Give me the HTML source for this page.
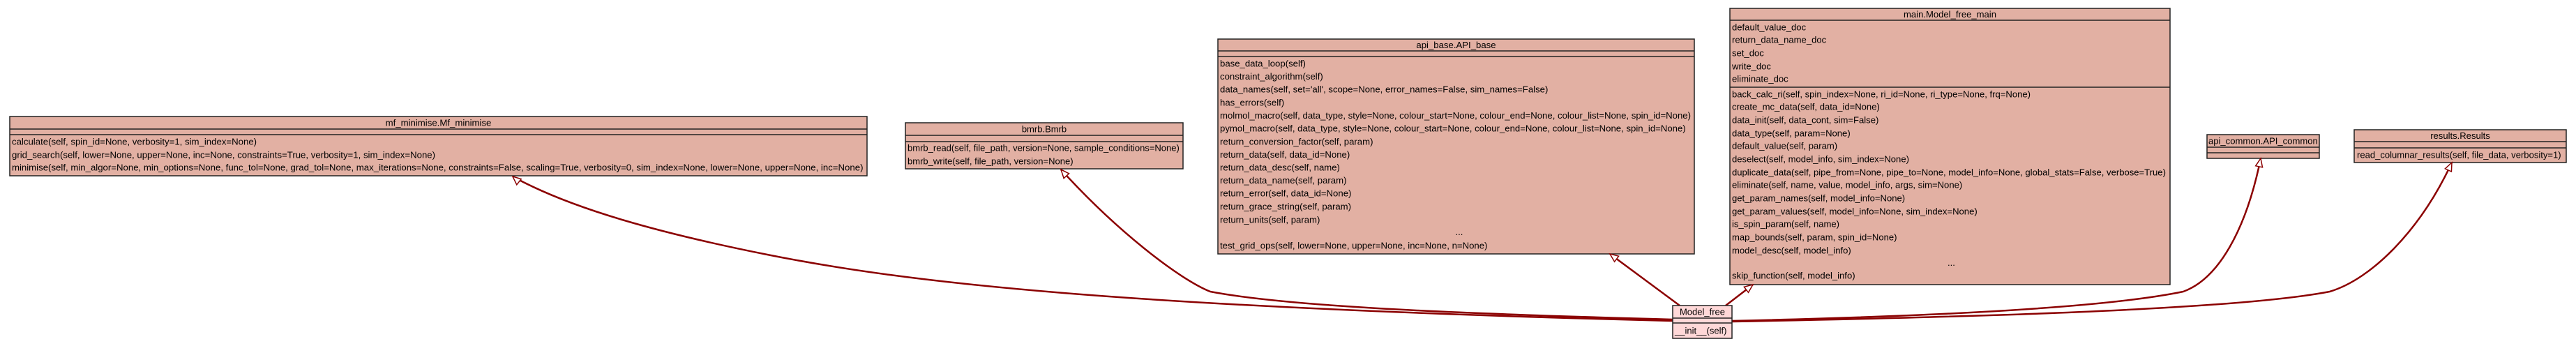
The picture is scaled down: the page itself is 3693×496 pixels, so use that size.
<!DOCTYPE html>
<html><head><meta charset="utf-8">
<style>
html,body{margin:0;padding:0;background:#fff;}
svg{display:block;}
text{font-family:"Liberation Sans",Arial,sans-serif;font-size:13px;fill:#000;}
</style></head>
<body>
<svg id="s" width="3693" height="496" viewBox="0 0 3693 496" xmlns="http://www.w3.org/2000/svg">
<rect width="3693" height="496" fill="#fff"/>
<g fill="none" stroke="#8b0000" stroke-width="2.5">
<path d="M735,253 C820,300 950,335 1100,365 C1300,405 1600,440 2398,460"/>
<path d="M1521,243 C1600,330 1690,400 1735,418 C1850,440 2100,450 2398,458"/>
<path d="M2308,364 L2408,438"/>
<path d="M2513,408 L2474,438"/>
<path d="M3241,227 C3220,330 3180,400 3130,418 C3000,445 2700,455 2483,460"/>
<path d="M3515,233 C3470,330 3400,400 3340,418 C3200,445 2800,455 2483,461"/>
</g>
<g stroke="#222" stroke-width="1.5">
<rect x="14" y="167" width="1229" height="85" fill="#e2b0a3"/>
<line x1="14" y1="185" x2="1243" y2="185"/><line x1="14" y1="193" x2="1243" y2="193"/>
<rect x="1298" y="176" width="398" height="66" fill="#e2b0a3"/>
<line x1="1298" y1="194" x2="1696" y2="194"/><line x1="1298" y1="203" x2="1696" y2="203"/>
<rect x="1746" y="56" width="683" height="308" fill="#e2b0a3"/>
<line x1="1746" y1="73" x2="2429" y2="73"/><line x1="1746" y1="81" x2="2429" y2="81"/>
<rect x="2480" y="12" width="631" height="396" fill="#e2b0a3"/>
<line x1="2480" y1="29" x2="3111" y2="29"/><line x1="2480" y1="125" x2="3111" y2="125"/>
<rect x="2398" y="438" width="85" height="47" fill="#ffd8d8"/>
<line x1="2398" y1="456" x2="2483" y2="456"/><line x1="2398" y1="463" x2="2483" y2="463"/>
<rect x="3164" y="193" width="161" height="34" fill="#e2b0a3"/>
<line x1="3164" y1="211" x2="3325" y2="211"/><line x1="3164" y1="219" x2="3325" y2="219"/>
<rect x="3375" y="186" width="304" height="47" fill="#e2b0a3"/>
<line x1="3375" y1="203" x2="3679" y2="203"/><line x1="3375" y1="212" x2="3679" y2="212"/>
</g>
<g fill="#fff" stroke="#8b0000" stroke-width="1.5">
<polygon points="735,253 747.2,256.6 740.8,264.8"/>
<polygon points="1521,243 1532.5,248.8 1525.1,255.6"/>
<polygon points="2308,364 2320.6,367.2 2314.6,375.2"/>
<polygon points="2513,408 2506.5,419.3 2500.4,411.3"/>
<polygon points="3241,227 3243.5,239.8 3233.7,237.8"/>
<polygon points="3515,233 3514.4,246 3505.4,241.8"/>
</g>

<g id="t0" transform="translate(628.5,0) scale(0.9,1) translate(-628.5,0)"><text x="628.5" y="180.5" text-anchor="middle">mf_minimise.Mf_minimise</text></g>
<g id="g0" transform="translate(17,0) scale(0.9,1) translate(-17,0)">
<text x="17" y="207.5">calculate(self, spin_id=None, verbosity=1, sim_index=None)</text>
<text x="17" y="226.5">grid_search(self, lower=None, upper=None, inc=None, constraints=True, verbosity=1, sim_index=None)</text>
<text x="17" y="244.5" class="L">minimise(self, min_algor=None, min_options=None, func_tol=None, grad_tol=None, max_iterations=None, constraints=False, scaling=True, verbosity=0, sim_index=None, lower=None, upper=None, inc=None)</text>
</g>
<g id="t1" transform="translate(1497,0) scale(0.9,1) translate(-1497,0)"><text x="1497" y="189.5" text-anchor="middle">bmrb.Bmrb</text></g>
<g id="g1" transform="translate(1301,0) scale(0.9,1) translate(-1301,0)">
<text x="1301" y="216.5" class="L">bmrb_read(self, file_path, version=None, sample_conditions=None)</text>
<text x="1301" y="235.5">bmrb_write(self, file_path, version=None)</text>
</g>
<g id="t2" transform="translate(2087.5,0) scale(0.9,1) translate(-2087.5,0)"><text x="2087.5" y="69" text-anchor="middle">api_base.API_base</text></g>
<g id="g2" transform="translate(1749,0) scale(0.9,1) translate(-1749,0)">
<text x="1749" y="95.5">base_data_loop(self)</text>
<text x="1749" y="114">constraint_algorithm(self)</text>
<text x="1749" y="132.5">data_names(self, set='all', scope=None, error_names=False, sim_names=False)</text>
<text x="1749" y="151.5">has_errors(self)</text>
<text x="1749" y="170" class="L">molmol_macro(self, data_type, style=None, colour_start=None, colour_end=None, colour_list=None, spin_id=None)</text>
<text x="1749" y="188.5">pymol_macro(self, data_type, style=None, colour_start=None, colour_end=None, colour_list=None, spin_id=None)</text>
<text x="1749" y="207.5">return_conversion_factor(self, param)</text>
<text x="1749" y="226">return_data(self, data_id=None)</text>
<text x="1749" y="244.5">return_data_desc(self, name)</text>
<text x="1749" y="263">return_data_name(self, param)</text>
<text x="1749" y="281.5">return_error(self, data_id=None)</text>
<text x="1749" y="300.5">return_grace_string(self, param)</text>
<text x="1749" y="319.5">return_units(self, param)</text>
<text x="2087.5" y="337" text-anchor="middle">...</text>
<text x="1749" y="356.5">test_grid_ops(self, lower=None, upper=None, inc=None, n=None)</text>
</g>
<g id="t3" transform="translate(2795.5,0) scale(0.9,1) translate(-2795.5,0)"><text x="2795.5" y="25" text-anchor="middle">main.Model_free_main</text></g>
<g id="g3" transform="translate(2483,0) scale(0.9,1) translate(-2483,0)">
<text x="2483" y="43.5">default_value_doc</text>
<text x="2483" y="61.5">return_data_name_doc</text>
<text x="2483" y="80.5">set_doc</text>
<text x="2483" y="99.5">write_doc</text>
<text x="2483" y="117.5">eliminate_doc</text>
<text x="2483" y="139.5">back_calc_ri(self, spin_index=None, ri_id=None, ri_type=None, frq=None)</text>
<text x="2483" y="157.5">create_mc_data(self, data_id=None)</text>
<text x="2483" y="176.5">data_init(self, data_cont, sim=False)</text>
<text x="2483" y="195.5">data_type(self, param=None)</text>
<text x="2483" y="213.5">default_value(self, param)</text>
<text x="2483" y="232.5">deselect(self, model_info, sim_index=None)</text>
<text x="2483" y="251.5" class="L">duplicate_data(self, pipe_from=None, pipe_to=None, model_info=None, global_stats=False, verbose=True)</text>
<text x="2483" y="269.5">eliminate(self, name, value, model_info, args, sim=None)</text>
<text x="2483" y="288.5">get_param_names(self, model_info=None)</text>
<text x="2483" y="307.5">get_param_values(self, model_info=None, sim_index=None)</text>
<text x="2483" y="325.5">is_spin_param(self, name)</text>
<text x="2483" y="344.5">map_bounds(self, param, spin_id=None)</text>
<text x="2483" y="363.5">model_desc(self, model_info)</text>
<text x="2795.5" y="381" text-anchor="middle">...</text>
<text x="2483" y="399.5">skip_function(self, model_info)</text>
</g>
<text x="2440.5" y="451.5" text-anchor="middle">Model_free</text>
<text x="2401" y="478.5">__init__(self)</text>
<g id="g5" transform="translate(3166,0) scale(1,1) translate(-3166,0)"><text x="3166" y="206.5" class="L">api_common.API_common</text></g>
<g id="t6" transform="translate(3527,0) scale(1,1) translate(-3527,0)"><text x="3527" y="199" text-anchor="middle">results.Results</text></g>
<g id="g6" transform="translate(3379,0) scale(1,1) translate(-3379,0)"><text x="3379" y="226.5" class="L">read_columnar_results(self, file_data, verbosity=1)</text></g>
</svg>
<script>
(function(){
var cfg=[["g0","t0",17,628.5,1221],["g1","t1",1301,1497,390],["g2","t2",1749,2087.5,675],["g3","t3",2483,2795.5,622],["g5",null,3166,0,157],["g6","t6",3379,3527,293]];
try{
cfg.forEach(function(c){
var g=document.getElementById(c[0]);var L=g.querySelector(".L");if(!L)return;
var w=L.getComputedTextLength();if(!w)return;var s=c[4]/w;
g.setAttribute("transform","translate("+c[2]+",0) scale("+s+",1) translate("+(-c[2])+",0)");
if(c[1]){document.getElementById(c[1]).setAttribute("transform","translate("+c[3]+",0) scale("+s+",1) translate("+(-c[3])+",0)");}
});
}catch(e){}
})();
</script>
</body></html>
